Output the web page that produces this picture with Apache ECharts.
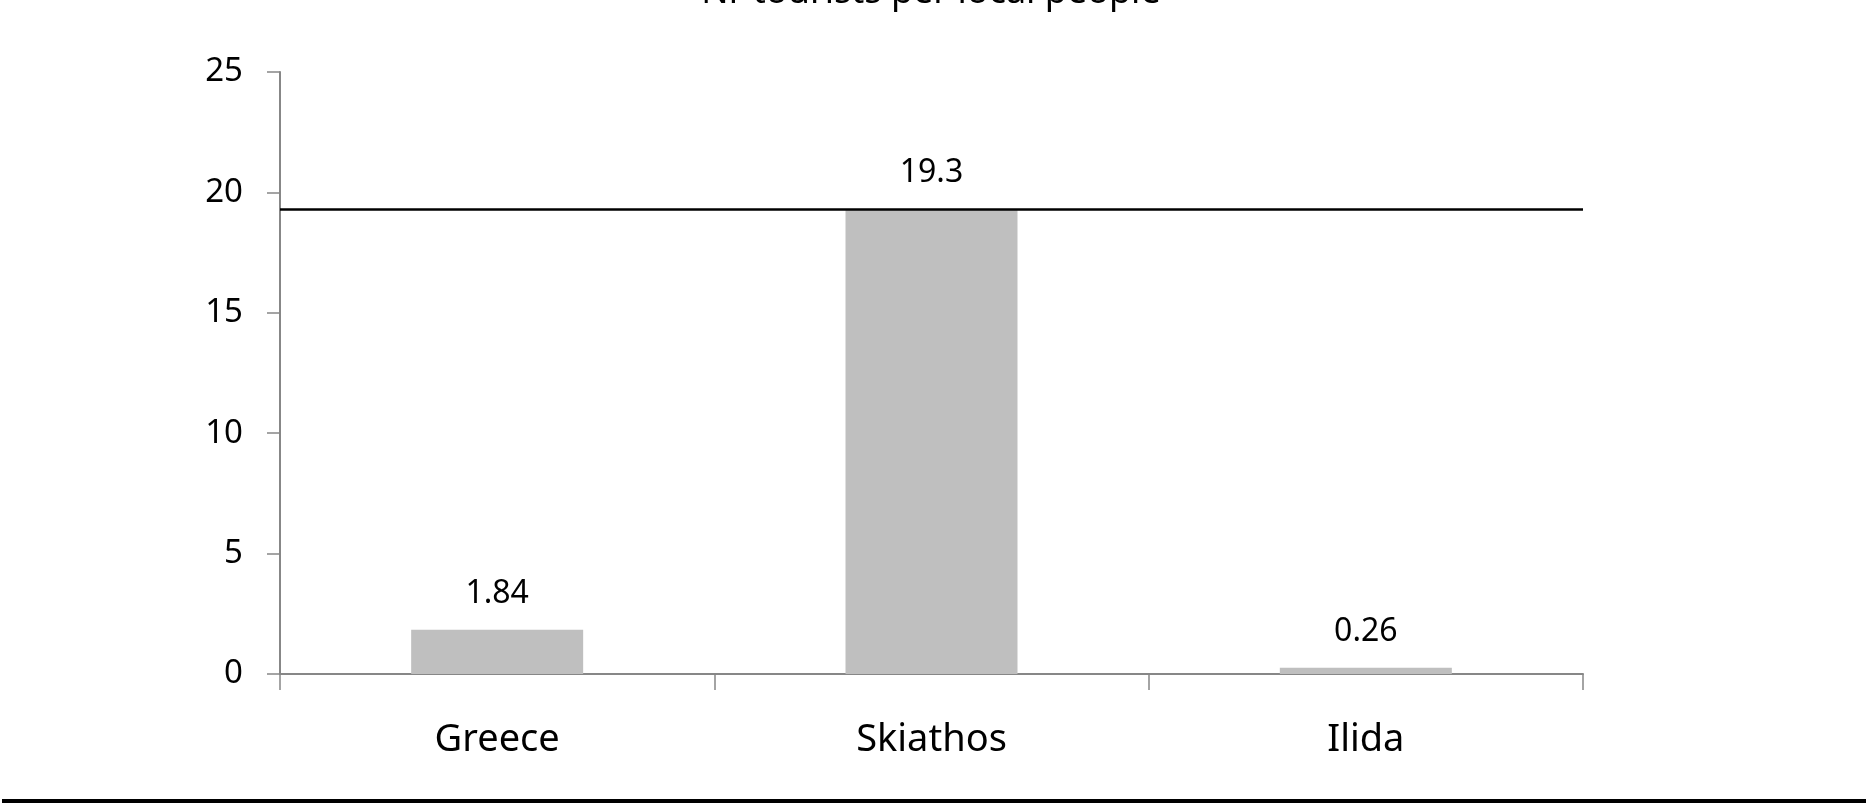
<!DOCTYPE html>
<html>
<head>
<meta charset="utf-8">
<script src="https://cdn.jsdelivr.net/npm/echarts@6/dist/echarts.min.js"></script>
<style>
html,body{margin:0;padding:0;background:#fff;}
#chart{width:1874px;height:811px;}
</style>
</head>
<body>
<div id="chart"></div>
<script>
const titleText = 'Nr tourists per local people';
const categories = ['Greece', 'Skiathos', 'Ilida'];
const values = [1.84, 19.3, 0.26];
const valueLabels = ['1.84', '19.3', '0.26'];
const referenceLine = 19.3;
const yTicks = [0, 5, 10, 15, 20, 25];

const FONT = 'Noto Sans';
const chart = echarts.init(document.getElementById('chart'), null, {renderer: 'canvas'});
chart.setOption({
  animation: false,
  backgroundColor: '#ffffff',
  title: {
    text: titleText,
    left: 931,
    textAlign: 'center',
    top: -25,
    padding: 0,
    textStyle: {fontFamily: FONT, fontSize: 36, fontWeight: 'normal', color: '#000000'}
  },
  grid: {left: 280, right: 291, top: 72, bottom: 137, containLabel: false},
  xAxis: {
    type: 'category',
    data: categories,
    boundaryGap: true,
    axisLine: {show: true, lineStyle: {color: '#878787', width: 2}},
    axisTick: {show: true, length: 16, lineStyle: {color: '#878787', width: 1.5}},
    axisLabel: {fontFamily: FONT, fontSize: 38, color: '#000000', margin: 47},
    splitLine: {show: false}
  },
  yAxis: {
    type: 'value',
    min: yTicks[0],
    max: yTicks[yTicks.length - 1],
    interval: yTicks[1] - yTicks[0],
    axisLine: {show: true, lineStyle: {color: '#878787', width: 2}},
    axisTick: {show: true, length: 13, lineStyle: {color: '#878787', width: 1.5}},
    axisLabel: {fontFamily: FONT, fontSize: 33, color: '#000000', margin: 37},
    splitLine: {show: false}
  },
  series: [{
    type: 'bar',
    data: values,
    barWidth: 172,
    itemStyle: {color: '#bfbfbf'},
    label: {
      show: true,
      position: 'top',
      distance: 20,
      fontFamily: FONT,
      fontSize: 32,
      color: '#000000',
      formatter: p => valueLabels[p.dataIndex]
    },
    markLine: {
      silent: true,
      symbol: ['none', 'none'],
      label: {show: false},
      lineStyle: {color: '#000000', width: 2.5, type: 'solid'},
      data: [{yAxis: referenceLine}]
    }
  }],
  graphic: [{
    type: 'line',
    shape: {x1: 2, y1: 801, x2: 1866, y2: 801},
    style: {stroke: '#000000', lineWidth: 4}
  }]
});
</script>
</body>
</html>
